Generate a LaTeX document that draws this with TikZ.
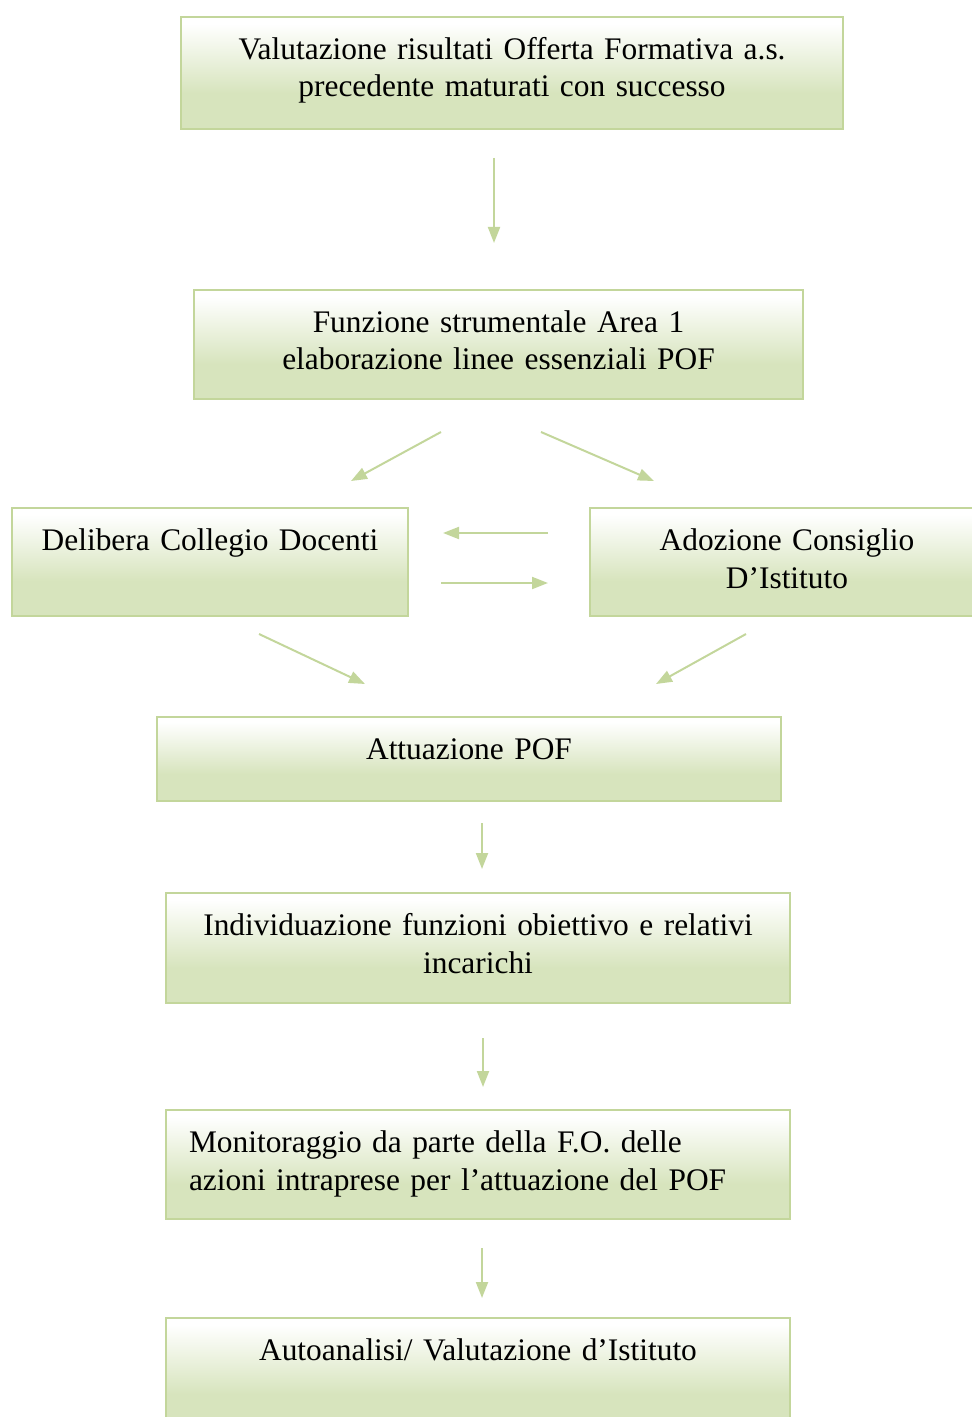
\documentclass[tikz,border=0pt]{standalone}
\usepackage{fontspec}
\setmainfont{Liberation Serif}
\usetikzlibrary{arrows.meta,positioning}

\definecolor{stageline}{RGB}{195,214,155}
\definecolor{stagefill}{RGB}{215,228,189}
\pgfdeclareverticalshading{stageshade}{100bp}{color(0bp)=(stagefill); color(41bp)=(stagefill); color(72bp)=(white); color(100bp)=(white)}

\begin{document}
\begin{tikzpicture}[flow/.style={color=stageline,line width=1pt,-{Triangle[length=8pt,width=6pt]}},
    stage/.style={draw=stageline,line width=1pt,shade,shading=stageshade,anchor=north west,
        inner xsep=11.5pt,inner ysep=0pt,text height=21.2pt,align=center,
        font=\fontsize{15.7}{18.8}\selectfont}]

            \useasboundingbox (0,0) rectangle (486pt,-708.5pt);

            % define the stages of the process

            \node[stage,text width=308pt,text depth=34.8pt]  (valut)  at (90pt,-8pt)      {Valutazione risultati Offerta Formativa a.s.\\ precedente maturati con successo};

            \node[stage,text width=281.5pt,text depth=33.3pt]  (funz)   at (96.5pt,-144.5pt) {Funzione strumentale Area 1\\ elaborazione linee essenziali POF};

            \node[stage,text width=175pt,text depth=32.8pt]  (delib)  at (5.5pt,-253.5pt)  {Delibera Collegio Docenti};

            \node[stage,text width=174pt,text depth=32.8pt]  (adoz)   at (294.5pt,-253.5pt) {Adozione Consiglio\\ D’Istituto};

            \node[stage,text width=289pt,text depth=20.8pt]  (attua)  at (78pt,-358pt)    {Attuazione POF};

            \node[stage,text width=289pt,text depth=33.8pt]  (indiv)  at (82.5pt,-446pt)  {Individuazione funzioni obiettivo e relativi\\ incarichi};

            \node[stage,text width=289pt,text depth=33.3pt,align=left] (monit) at (82.5pt,-554.5pt) {Monitoraggio da parte della F.O. delle\\ azioni intraprese per l’attuazione del POF};

            \node[stage,text width=289pt,text depth=34.8pt]  (autoan) at (82.5pt,-658.5pt) {Autoanalisi/ Valutazione d’Istituto};

            % arrow ends

            \coordinate (a1s) at (247pt,-79pt);     \coordinate (a1e) at (247pt,-121.5pt);
            \coordinate (a2s) at (220.5pt,-216pt);  \coordinate (a2e) at (175.5pt,-240.5pt);
            \coordinate (a3s) at (270.5pt,-216pt);  \coordinate (a3e) at (327pt,-240.5pt);
            \coordinate (a4s) at (274pt,-266.5pt);  \coordinate (a4e) at (221.5pt,-266.5pt);
            \coordinate (a5s) at (220.5pt,-291.5pt); \coordinate (a5e) at (274pt,-291.5pt);
            \coordinate (a6s) at (129.5pt,-317pt);  \coordinate (a6e) at (182.5pt,-342pt);
            \coordinate (a7s) at (373pt,-317pt);    \coordinate (a7e) at (328pt,-342pt);
            \coordinate (a8s) at (241pt,-411.5pt);  \coordinate (a8e) at (241pt,-434.5pt);
            \coordinate (a9s) at (241.5pt,-519pt);  \coordinate (a9e) at (241.5pt,-543.5pt);
            \coordinate (a10s) at (241pt,-624pt);   \coordinate (a10e) at (241pt,-649pt);

            \path (a1s) edge[flow] (a1e)
                  (a2s) edge[flow] (a2e)
                  (a3s) edge[flow] (a3e)
                  (a4s) edge[flow] (a4e)
                  (a5s) edge[flow] (a5e)
                  (a6s) edge[flow] (a6e)
                  (a7s) edge[flow] (a7e)
                  (a8s) edge[flow] (a8e)
                  (a9s) edge[flow] (a9e)
                  (a10s) edge[flow] (a10e);

        \end{tikzpicture}
\end{document}
